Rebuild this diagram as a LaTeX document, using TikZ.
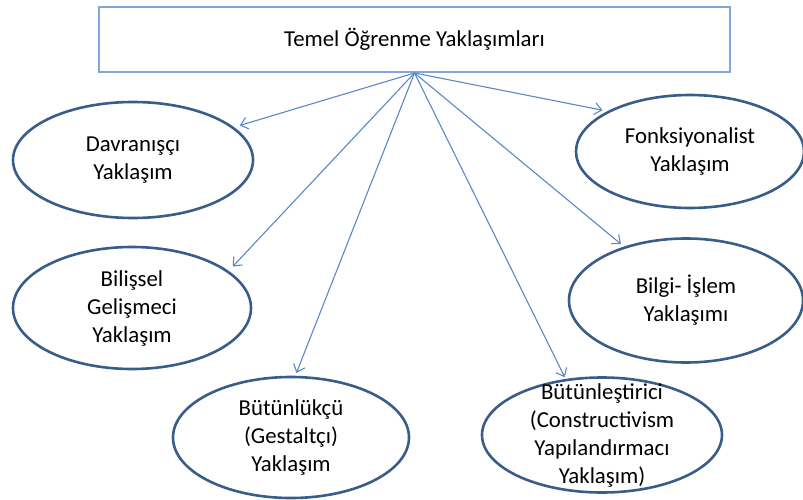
\documentclass[tikz,border=0pt]{standalone}
\usepackage{fontspec}
\setmainfont{Carlito}
\usepackage{tikz}
\usetikzlibrary{positioning,arrows.meta,shapes.geometric}
\definecolor{boxblue}{HTML}{7FA7DA}
\definecolor{ovalblue}{HTML}{385D8A}
\definecolor{arrowblue}{HTML}{5A88C6}
\tikzstyle{titlebox} = [
rectangle,
minimum width=631pt,
minimum height=65pt,
text centered,
line width=2pt,
draw=boxblue
]
\tikzstyle{approach} = [
ellipse,
inner sep=0pt,
line width=2.6pt,
draw=ovalblue
]
\tikzstyle{ovaltext} = [
align=center,
inner sep=0pt
]
\tikzstyle{arrow} = [
line width=1.1pt,
draw=arrowblue,
-{Straight Barb[length=7pt,width=12pt]}
]

\begin{document}
\begin{tikzpicture}[x=1pt,y=-1pt,font=\fontsize{22.8}{28}\selectfont]
					\useasboundingbox (0,0) rectangle (803,500);
					%Nodes
					\node[titlebox] (title) at (414.5,39.5) {Temel Öğrenme Yaklaşımları};
					\node[approach,minimum width=240pt,minimum height=116pt,label={[ovaltext]center:Davranışçı\\Yaklaşım}] (davr) at (133,160) {};
					\node[approach,minimum width=238pt,minimum height=122pt,label={[ovaltext]center:Bilişsel\\Gelişmeci\\Yaklaşım}] (bilissel) at (132,308) {};
					\node[approach,minimum width=236pt,minimum height=121pt,label={[ovaltext]center:Bütünlükçü\\(Gestaltçı)\\Yaklaşım}] (butunlukcu) at (291,437.5) {};
					\node[approach,minimum width=240pt,minimum height=115pt,label={[ovaltext]center:Bütünleştirici\\(Constructivism\\Yapılandırmacı\\Yaklaşım)}] (butunlestirici) at (602,435) {};
					\node[approach,minimum width=234pt,minimum height=124pt,label={[ovaltext]center:Bilgi- İşlem\\Yaklaşımı}] (bilgi) at (686,300.5) {};
					\node[approach,minimum width=228pt,minimum height=113pt,label={[ovaltext]center:Fonksiyonalist\\Yaklaşım}] (fonk) at (690,151.5) {};
					%Arrows
					\draw[arrow,shorten >=6pt] (title.south) -- (davr.18);
					\draw[arrow,shorten >=6pt] (title.south) -- (bilissel.21);
					\draw[arrow,shorten >=3pt] (title.south) -- (butunlukcu.86);
					\draw[arrow,shorten >=2pt] (title.south) -- (butunlestirici.123);
					\draw[arrow,shorten >=4pt] (title.south) -- (bilgi.139);
					\draw[arrow,shorten >=5pt] (title.south) -- (fonk.154);
				\end{tikzpicture}
\end{document}
